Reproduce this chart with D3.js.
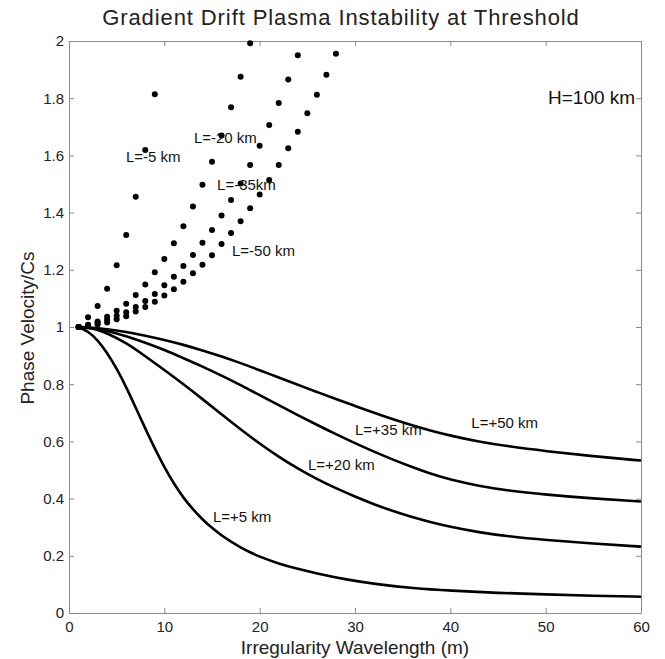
<!DOCTYPE html>
<html>
<head>
<meta charset="utf-8">
<title>Gradient Drift Plasma Instability at Threshold</title>
<style>
body {
  margin: 0;
  background: #fff;
}
svg {
  display: block;
  font-family: "Liberation Sans", Arial, Helvetica, sans-serif;
}
.axis path, .axis line {
  stroke: #8a8a8a;
}
.axis text {
  fill: #222;
  font-size: 15px;
}
</style>
</head>
<body>
<svg width="665" height="659"></svg>
<script src="https://cdn.jsdelivr.net/npm/d3@7"></script>
<script>

// irregularity wavelength (m) for the dotted (negative L) series
var dotWavelengths = [1, 2, 3, 4, 5, 6, 7, 8, 9, 10, 11, 12, 13, 14, 15, 16, 17, 18, 19, 20,
                      21, 22, 23, 24, 25, 26, 27, 28];

// phase velocity / Cs, negative gradient scale lengths
var negL5  = [1.0, 1.034, 1.073, 1.134, 1.216, 1.322, 1.455, 1.619, 1.814];
var negL20 = [1.0, 1.008, 1.019, 1.036, 1.057, 1.081, 1.112, 1.149, 1.191, 1.238,
              1.293, 1.352, 1.421, 1.497, 1.578, 1.670, 1.768, 1.875, 1.992];
var negL35 = [1.0, 1.005, 1.014, 1.025, 1.039, 1.052, 1.070, 1.091, 1.115, 1.146,
              1.176, 1.213, 1.252, 1.295, 1.339, 1.390, 1.444, 1.502, 1.566, 1.634,
              1.706, 1.783, 1.865, 1.950];
var negL50 = [1.0, 1.004, 1.009, 1.016, 1.027, 1.038, 1.054, 1.070, 1.088, 1.110,
              1.132, 1.158, 1.188, 1.218, 1.251, 1.290, 1.329, 1.370, 1.415, 1.463,
              1.514, 1.566, 1.625, 1.683, 1.747, 1.812, 1.882, 1.955];

// solid curves, positive L: [wavelength, phase velocity / Cs]
var posL5 = [[1, 1.0], [2, 0.985], [3, 0.955], [4, 0.91], [5, 0.855], [6, 0.79], [7, 0.718],
             [8, 0.645], [9, 0.575], [10, 0.51], [11, 0.452], [12, 0.403], [13, 0.362],
             [14, 0.327], [15, 0.297], [16, 0.271], [17, 0.249], [18, 0.229], [19, 0.212],
             [20, 0.197], [22, 0.172], [24, 0.154], [26, 0.138], [29, 0.117], [32.6, 0.099],
             [36, 0.087], [40, 0.078], [45, 0.07], [50, 0.065], [55, 0.06], [60, 0.057]];
var posL20 = [[1, 1.0], [2, 0.997], [3, 0.99], [4, 0.978], [6, 0.945], [8, 0.898], [10, 0.85],
              [12, 0.80], [14, 0.748], [16, 0.695], [18, 0.642], [20, 0.592], [22, 0.546],
              [24, 0.505], [26, 0.468], [28, 0.436], [30, 0.407], [32, 0.38], [34, 0.356],
              [36, 0.335], [38, 0.317], [40, 0.301], [43, 0.282], [46, 0.268], [50, 0.255],
              [55, 0.243], [60, 0.232]];
var posL35 = [[1, 1.0], [2, 0.998], [4, 0.988], [6, 0.968], [8, 0.945], [10, 0.92], [12, 0.891],
              [14, 0.862], [16, 0.83], [18, 0.797], [20, 0.762], [22, 0.727], [24, 0.692],
              [26, 0.658], [28, 0.625], [30, 0.594], [32, 0.564], [34, 0.536], [36, 0.51],
              [38, 0.486], [40, 0.466], [43, 0.444], [46, 0.428], [50, 0.414], [55, 0.40],
              [60, 0.39]];
var posL50 = [[1, 1.0], [2, 0.999], [4, 0.993], [6, 0.983], [8, 0.97], [10, 0.955], [12, 0.938],
              [14, 0.918], [16, 0.897], [18, 0.874], [20, 0.849], [22, 0.823], [24, 0.798],
              [26, 0.773], [28, 0.748], [30, 0.724], [32, 0.70], [34, 0.677], [36, 0.656],
              [38, 0.637], [40, 0.62], [43, 0.599], [46, 0.583], [50, 0.566], [55, 0.548],
              [60, 0.533]];

var xTicks = [0, 10, 20, 30, 40, 50, 60];
var yTicks = [0, 0.2, 0.4, 0.6, 0.8, 1, 1.2, 1.4, 1.6, 1.8, 2];

var labels = [
  {text: "L=-5 km",   x: 5.98,  y: 1.577},
  {text: "L=-20 km",  x: 13.1,  y: 1.643},
  {text: "L=-35km",   x: 15.53, y: 1.478},
  {text: "L=-50 km",  x: 17.1,  y: 1.25},
  {text: "L=+5 km",   x: 15.1,  y: 0.318},
  {text: "L=+20 km",  x: 25.07, y: 0.50},
  {text: "L=+35 km",  x: 30.0,  y: 0.622},
  {text: "L=+50 km",  x: 42.2,  y: 0.647}
];

var margin = {top: 41, left: 69},
    width = 572,
    height = 572;

var x = d3.scaleLinear().domain([0, 60]).range([0, width]);
var y = d3.scaleLinear().domain([0, 2]).range([height, 0]);

var svg = d3.select("svg");
var g = svg.append("g")
    .attr("transform", "translate(" + margin.left + "," + margin.top + ")");

var fmt = function(d) { return String(+d.toFixed(1)); };

// box with inward ticks on all four sides
g.append("g").attr("class", "axis")
    .attr("transform", "translate(0," + height + ")")
    .call(d3.axisBottom(x).tickValues(xTicks).tickSizeInner(-5).tickSizeOuter(0).tickPadding(8).tickFormat(fmt));
g.append("g").attr("class", "axis")
    .call(d3.axisLeft(y).tickValues(yTicks).tickSizeInner(-5).tickSizeOuter(0).tickPadding(5).tickFormat(fmt));
g.append("g").attr("class", "axis")
    .call(d3.axisTop(x).tickValues(xTicks).tickSizeInner(-5).tickSizeOuter(0).tickFormat(""));
g.append("g").attr("class", "axis")
    .attr("transform", "translate(" + width + ",0)")
    .call(d3.axisRight(y).tickValues(yTicks).tickSizeInner(-5).tickSizeOuter(0).tickFormat(""));

var line = d3.line()
    .x(function(d) { return x(d[0]); })
    .y(function(d) { return y(d[1]); })
    .curve(d3.curveBasis);

g.append("g")
  .selectAll("path")
    .data([posL5, posL20, posL35, posL50])
  .enter().append("path")
    .attr("d", line)
    .attr("fill", "none")
    .attr("stroke", "#000")
    .attr("stroke-width", 2.6);

var dotSeries = [negL5, negL20, negL35, negL50];
dotSeries.forEach(function(vals) {
  g.append("g")
    .selectAll("circle")
      .data(vals)
    .enter().append("circle")
      .attr("cx", function(d, i) { return x(dotWavelengths[i]); })
      .attr("cy", function(d) { return y(d); })
      .attr("r", 3)
      .attr("fill", "#000");
});

g.append("g")
  .selectAll("text")
    .data(labels)
  .enter().append("text")
    .attr("x", function(d) { return x(d.x); })
    .attr("y", function(d) { return y(d.y); })
    .attr("font-size", 15)
    .attr("fill", "#111")
    .text(function(d) { return d.text; });

g.append("text")
    .attr("x", x(50.25))
    .attr("y", y(1.78))
    .attr("font-size", 19)
    .attr("fill", "#111")
    .text("H=100 km");

svg.append("text")
    .attr("x", 341)
    .attr("y", 25)
    .attr("text-anchor", "middle")
    .attr("font-size", 22)
    .attr("letter-spacing", 0.9)
    .attr("fill", "#222")
    .text("Gradient Drift Plasma Instability at Threshold");

svg.append("text")
    .attr("x", margin.left + width / 2)
    .attr("y", 654)
    .attr("text-anchor", "middle")
    .attr("font-size", 19)
    .attr("fill", "#222")
    .text("Irregularity Wavelength (m)");

svg.append("text")
    .attr("transform", "translate(34,328) rotate(-90)")
    .attr("text-anchor", "middle")
    .attr("font-size", 19)
    .attr("fill", "#222")
    .text("Phase Velocity/Cs");

</script>
</body>
</html>
